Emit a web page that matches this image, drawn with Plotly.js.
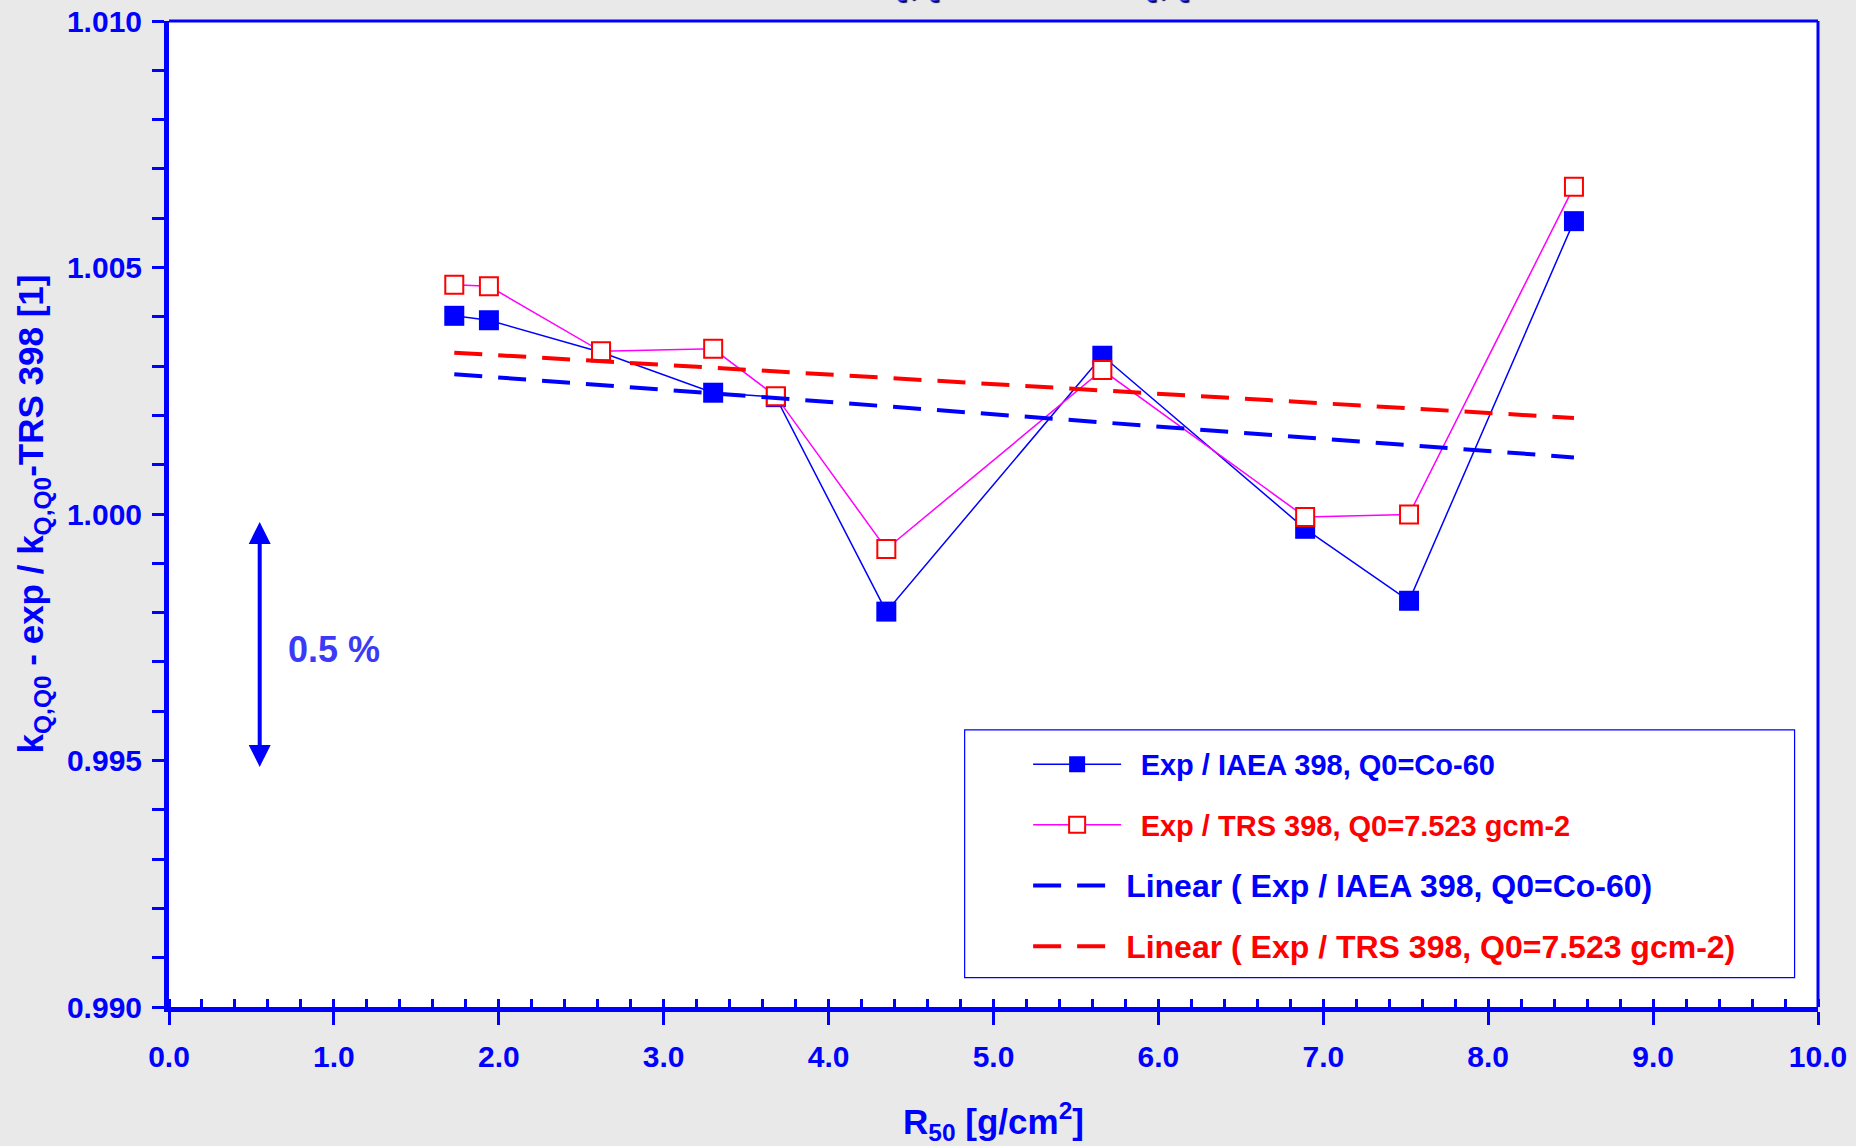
<!DOCTYPE html>
<html>
<head>
<meta charset="utf-8">
<script src="https://cdn.plot.ly/plotly-3.0.1.min.js"></script>
<style>
  html, body { margin: 0; padding: 0; background: #e9e9e9; }
  #chart { width: 1856px; height: 1146px; }
</style>
</head>
<body>
<div id="chart"></div>
<script>
// R50 values [g/cm2] of the measured electron beams
const r50 = [1.73, 1.94, 2.62, 3.30, 3.68, 4.35, 5.66, 6.89, 7.52, 8.52];
// ratio kQ,Q0 exp / kQ,Q0 TRS 398, reference quality Co-60
const ratioCo60 = [1.00402, 1.00393, 1.00328, 1.00246, 1.00237, 0.99802, 1.00321, 0.99970, 0.99824, 1.00594];
// ratio kQ,Q0 exp / kQ,Q0 TRS 398, reference quality R50 = 7.523 g/cm2
const ratioQ7523 = [1.00465, 1.00462, 1.00330, 1.00335, 1.00239, 0.99929, 1.00292, 0.99994, 0.99999, 1.00664];

const seriesNames = [
  'Exp / IAEA 398, Q0=Co-60',
  'Exp / TRS 398, Q0=7.523 gcm-2',
  'Linear ( Exp / IAEA 398, Q0=Co-60)',
  'Linear ( Exp / TRS 398, Q0=7.523 gcm-2)'
];

const xTickRange = [0, 10];
const yTickRange = [0.990, 1.010];
// vertical bar marking a 0.5 % span
const spanX = 0.55;
const spanY = [0.99484, 0.99984];
const spanLabel = '0.5 %';

// least-squares straight line through (x, y)
function linearFit(x, y) {
  const n = x.length;
  const mx = x.reduce((a, b) => a + b, 0) / n;
  const my = y.reduce((a, b) => a + b, 0) / n;
  let sxy = 0, sxx = 0;
  for (let i = 0; i < n; i++) {
    sxy += (x[i] - mx) * (y[i] - my);
    sxx += (x[i] - mx) * (x[i] - mx);
  }
  const slope = sxy / sxx;
  const icpt = my - slope * mx;
  const xs = [Math.min(...x), Math.max(...x)];
  return { x: xs, y: xs.map(v => icpt + slope * v) };
}

const BLUE = '#0000ff';
const RED = '#ff0000';
const FONT = 'Arial, "Liberation Sans", sans-serif';
const EN = '\u2002';

const fitCo = linearFit(r50, ratioCo60);
const fitQ = linearFit(r50, ratioQ7523);

function coloured(text, color, size) {
  const sz = size ? ';font-size:' + size + 'px' : '';
  return '<span style="color:' + color + sz + '">' + text + '</span>';
}

const traces = [
  {
    x: r50, y: ratioCo60, type: 'scatter', mode: 'lines+markers',
    name: coloured(EN + seriesNames[0], BLUE),
    legendgroup: 'a',
    line: { color: BLUE, width: 1.5 },
    marker: { symbol: 'square', size: 20, color: BLUE, line: { width: 0 } }
  },
  {
    x: r50, y: ratioQ7523, type: 'scatter', mode: 'lines+markers',
    name: coloured(EN + seriesNames[1], RED),
    legendgroup: 'b',
    line: { color: '#ff00ff', width: 1.5 },
    marker: { symbol: 'square', size: 18, color: '#ffffff', line: { color: RED, width: 2 } }
  },
  {
    x: fitCo.x, y: fitCo.y, type: 'scatter', mode: 'lines',
    name: coloured(seriesNames[2], BLUE, 32),
    legendgroup: 'c',
    line: { color: BLUE, width: 4, dash: '28px,16px' }
  },
  {
    x: fitQ.x, y: fitQ.y, type: 'scatter', mode: 'lines',
    name: coloured(seriesNames[3], RED, 32),
    legendgroup: 'd',
    line: { color: RED, width: 4, dash: '28px,16px' }
  }
];

const layout = {
  width: 1856, height: 1146,
  paper_bgcolor: '#e9e9e9',
  plot_bgcolor: '#ffffff',
  margin: { l: 169, r: 38, t: 21, b: 139 },
  font: { family: FONT, color: BLUE },
  showlegend: true,
  legend: {
    x: 0.521, xanchor: 'left',
    y: 0.272, yanchor: 'top',
    bgcolor: 'rgba(0,0,0,0)',
    borderwidth: 0,
    itemwidth: 88,
    tracegroupgap: 20,
    traceorder: 'grouped',
    font: { family: FONT, size: 29, weight: 'bold', color: BLUE }
  },
  xaxis: {
    range: xTickRange,
    dtick: 1, tick0: 0, tickformat: '.1f',
    ticks: 'outside', ticklen: 13, tickwidth: 3, tickcolor: BLUE,
    minor: { dtick: 0.2, ticks: 'inside', ticklen: 8, tickwidth: 3, tickcolor: BLUE },
    showline: true, linecolor: BLUE, linewidth: 5,
    showgrid: false, zeroline: false,
    tickfont: { family: FONT, size: 30, weight: 'bold', color: BLUE },
    ticklabelstandoff: 6,
    title: {
      text: 'R<sub>50</sub> [g/cm<sup>2</sup>]',
      font: { family: FONT, size: 35, weight: 'bold', color: BLUE },
      standoff: 40
    }
  },
  xaxis2: {
    overlaying: 'x', anchor: 'y', side: 'bottom',
    range: xTickRange, dtick: 1, tick0: 0,
    ticks: 'inside', ticklen: 8, tickwidth: 3, tickcolor: BLUE,
    showticklabels: false, showline: false, showgrid: false, zeroline: false
  },
  yaxis: {
    range: yTickRange,
    dtick: 0.005, tick0: 0.990, tickformat: '.3f',
    ticks: 'outside', ticklen: 12, tickwidth: 3, tickcolor: BLUE,
    minor: { dtick: 0.001, ticks: 'outside', ticklen: 12, tickwidth: 3, tickcolor: BLUE },
    showline: true, linecolor: BLUE, linewidth: 5,
    showgrid: false, zeroline: false,
    tickfont: { family: FONT, size: 30, weight: 'bold', color: BLUE },
    ticklabelstandoff: 4,
    title: {
      text: 'k<sub>Q,Q0</sub> - exp / k<sub>Q,Q0</sub>-TRS 398 [1]',
      font: { family: FONT, size: 35, weight: 'bold', color: BLUE },
      standoff: 14
    }
  },
  yaxis2: {
    overlaying: 'y', anchor: 'x', side: 'left',
    range: yTickRange, dtick: 0.005, tick0: 0.990,
    ticks: 'inside', ticklen: 5, tickwidth: 3, tickcolor: BLUE,
    minor: { dtick: 0.001, ticks: 'inside', ticklen: 5, tickwidth: 3, tickcolor: BLUE },
    showticklabels: false, showline: false, showgrid: false, zeroline: false
  },
  shapes: [
    // legend frame
    { type: 'rect', xref: 'paper', yref: 'paper', x0: 0.4825, x1: 0.9858, y0: 0.0297, y1: 0.281,
      layer: 'below', fillcolor: '#ffffff', line: { color: BLUE, width: 1.2 } },
    // top and right frame of the plotting area
    { type: 'line', xref: 'paper', yref: 'paper', x0: 0, x1: 1, y0: 1, y1: 1,
      line: { color: BLUE, width: 3 } },
    { type: 'line', xref: 'paper', yref: 'paper', x0: 1, x1: 1, y0: 0, y1: 1,
      line: { color: BLUE, width: 3 } }
  ],
  annotations: [
    {
      xref: 'x', yref: 'y', axref: 'x', ayref: 'y',
      x: spanX, y: spanY[1], ax: spanX, ay: spanY[0],
      text: '', showarrow: true,
      arrowside: 'end+start', arrowhead: 2, arrowsize: 1.1, arrowwidth: 4,
      arrowcolor: BLUE, standoff: 0, startstandoff: 0
    },
    {
      xref: 'x', yref: 'y', x: spanX + 0.16, y: (spanY[0] + spanY[1]) / 2 - 0.00008,
      xanchor: 'left', yanchor: 'middle',
      text: spanLabel, showarrow: false,
      font: { family: FONT, size: 36, weight: 'bold', color: '#3b3bf7' }
    },
    {
      xref: 'paper', yref: 'paper', x: 0.418, y: 1.049,
      xanchor: 'left', yanchor: 'middle',
      text: 'k<sub>Q,Q0</sub> - exp / k<sub>Q,Q0</sub>',
      showarrow: false,
      font: { family: FONT, size: 44, weight: 'bold', color: '#3b3bf7', shadow: '2px 2px 1px #000050' }
    }
  ]
};

Plotly.newPlot('chart', traces, layout, { staticPlot: true, displayModeBar: false });
</script>
</body>
</html>
